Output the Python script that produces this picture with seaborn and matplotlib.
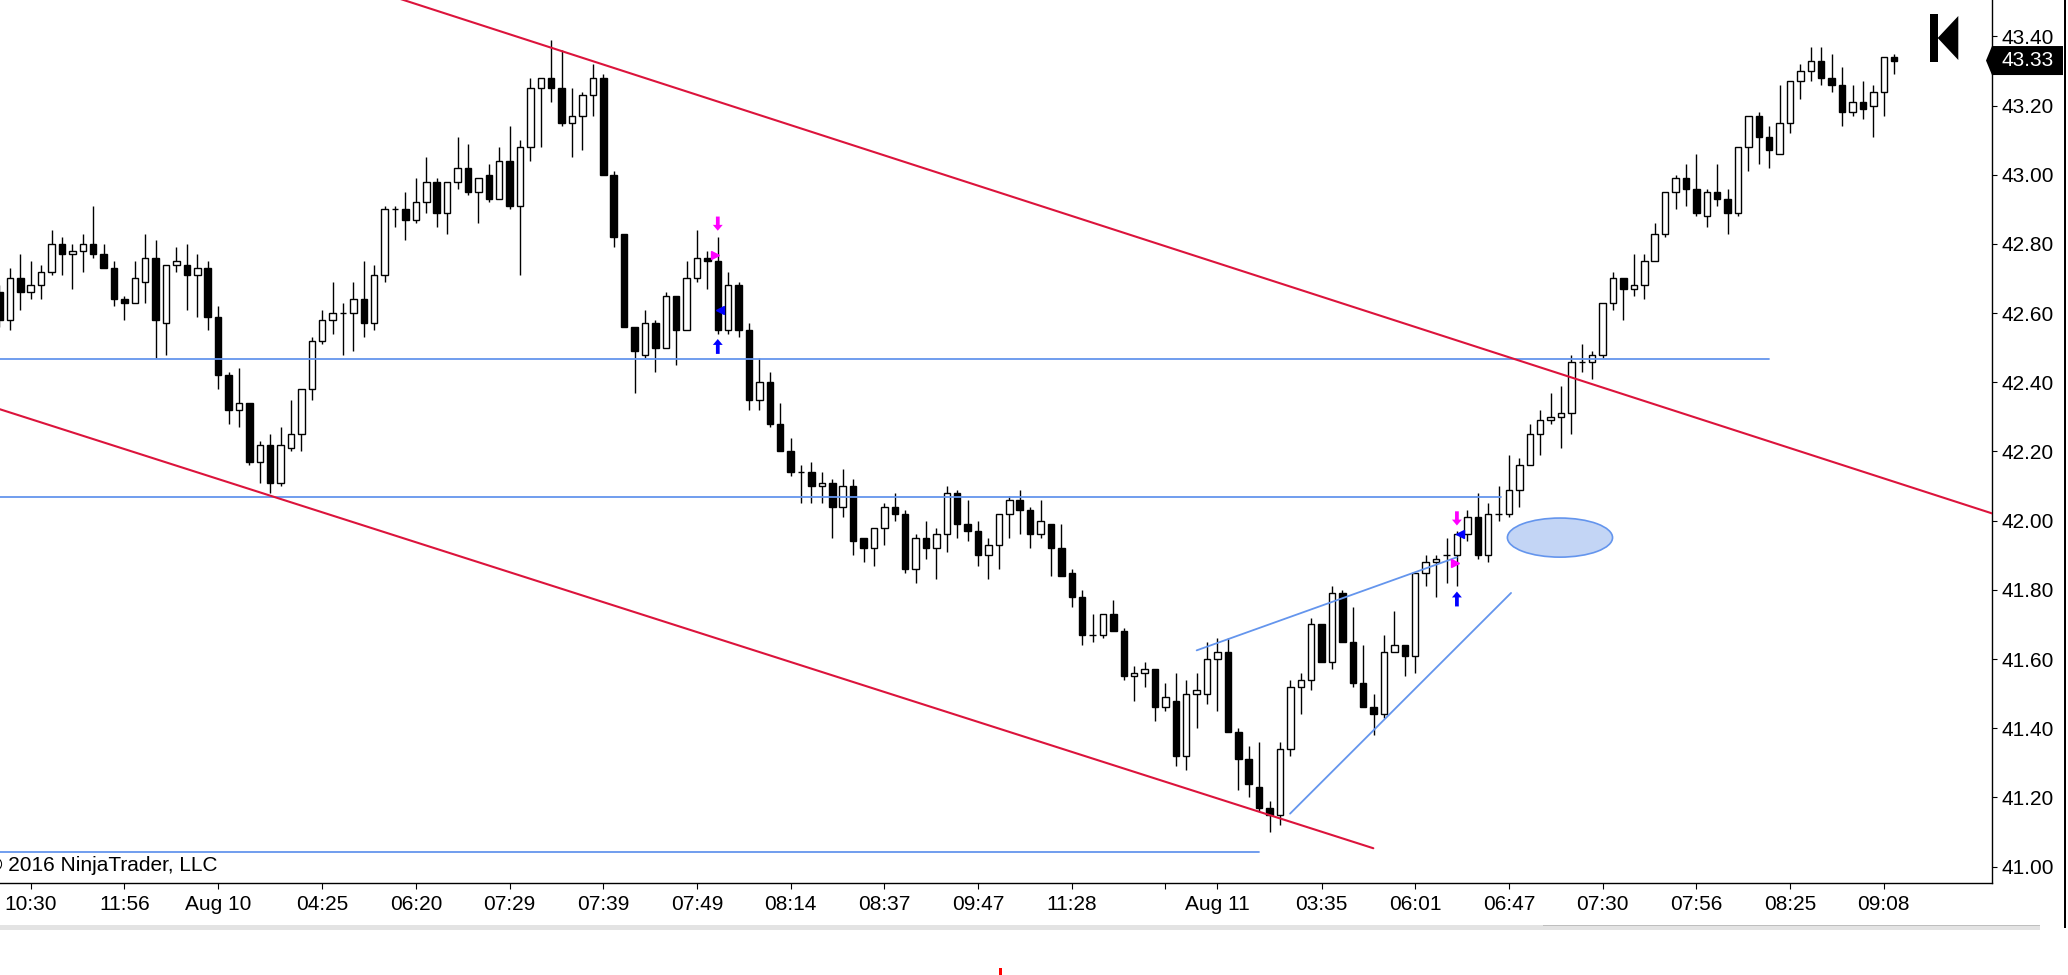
import numpy as np
import pandas as pd
import matplotlib
matplotlib.use("Agg")
import matplotlib.pyplot as plt
from matplotlib.patches import Rectangle, Polygon, Ellipse, FancyArrow
from matplotlib.transforms import blended_transform_factory
import seaborn as sns

# OHLC, one entry per bar (left to right)
opens = [42.66, 42.58, 42.70, 42.66, 42.68, 42.72, 42.80, 42.77, 42.78, 42.80,
         42.77, 42.73, 42.64, 42.63, 42.69, 42.76, 42.57, 42.74, 42.74, 42.71,
         42.73, 42.59, 42.42, 42.32, 42.34, 42.17, 42.22, 42.11, 42.21, 42.25,
         42.38, 42.52, 42.58, 42.60, 42.60, 42.64, 42.57, 42.71, 42.90, 42.90,
         42.87, 42.92, 42.98, 42.89, 42.98, 43.02, 42.95, 43.00, 42.93, 43.04,
         42.91, 43.08, 43.25, 43.28, 43.25, 43.15, 43.17, 43.23, 43.28, 43.00,
         42.83, 42.56, 42.48, 42.57, 42.50, 42.65, 42.55, 42.70, 42.76, 42.75,
         42.55, 42.68, 42.55, 42.35, 42.40, 42.28, 42.20, 42.14, 42.14, 42.10,
         42.11, 42.04, 42.10, 41.95, 41.92, 41.98, 42.04, 42.02, 41.86, 41.95,
         41.92, 41.96, 42.08, 41.99, 41.97, 41.90, 41.93, 42.02, 42.06, 42.03,
         41.96, 41.99, 41.92, 41.85, 41.78, 41.67, 41.67, 41.73, 41.68, 41.55,
         41.56, 41.57, 41.46, 41.48, 41.32, 41.50, 41.50, 41.60, 41.62, 41.39,
         41.31, 41.23, 41.17, 41.15, 41.34, 41.52, 41.54, 41.70, 41.59, 41.79,
         41.65, 41.53, 41.46, 41.44, 41.62, 41.64, 41.61, 41.85, 41.88, 41.90,
         41.90, 41.96, 42.01, 41.90, 42.02, 42.02, 42.09, 42.16, 42.25, 42.29,
         42.30, 42.31, 42.46, 42.46, 42.48, 42.63, 42.70, 42.67, 42.68, 42.75,
         42.83, 42.95, 42.99, 42.96, 42.88, 42.95, 42.93, 42.89, 43.08, 43.17,
         43.11, 43.06, 43.15, 43.27, 43.30, 43.33, 43.28, 43.26, 43.18, 43.21,
         43.20, 43.24, 43.34]
highs = [42.68, 42.73, 42.77, 42.75, 42.74, 42.84, 42.82, 42.80, 42.83, 42.91,
         42.80, 42.75, 42.65, 42.75, 42.83, 42.81, 42.74, 42.79, 42.80, 42.77,
         42.75, 42.62, 42.43, 42.44, 42.34, 42.23, 42.25, 42.27, 42.35, 42.38,
         42.53, 42.61, 42.69, 42.63, 42.69, 42.75, 42.74, 42.91, 42.91, 42.95,
         42.99, 43.05, 42.99, 42.98, 43.11, 43.09, 42.99, 43.03, 43.08, 43.14,
         43.10, 43.28, 43.28, 43.39, 43.36, 43.25, 43.24, 43.32, 43.29, 43.01,
         42.83, 42.56, 42.61, 42.58, 42.66, 42.65, 42.75, 42.84, 42.78, 42.82,
         42.72, 42.69, 42.57, 42.47, 42.43, 42.34, 42.24, 42.16, 42.17, 42.14,
         42.12, 42.15, 42.12, 41.95, 41.98, 42.05, 42.08, 42.03, 41.96, 42.00,
         41.98, 42.10, 42.09, 42.06, 42.00, 41.95, 42.02, 42.07, 42.09, 42.04,
         42.06, 41.99, 41.99, 41.86, 41.80, 41.73, 41.73, 41.77, 41.69, 41.58,
         41.59, 41.57, 41.53, 41.56, 41.54, 41.56, 41.65, 41.66, 41.66, 41.40,
         41.35, 41.36, 41.19, 41.36, 41.54, 41.56, 41.72, 41.70, 41.81, 41.80,
         41.75, 41.64, 41.50, 41.67, 41.74, 41.64, 41.85, 41.90, 41.90, 41.95,
         41.97, 42.03, 42.08, 42.05, 42.10, 42.19, 42.18, 42.28, 42.32, 42.37,
         42.39, 42.48, 42.51, 42.49, 42.63, 42.72, 42.70, 42.77, 42.77, 42.86,
         42.95, 43.00, 43.03, 43.06, 42.96, 43.03, 42.96, 43.08, 43.17, 43.18,
         43.14, 43.26, 43.27, 43.32, 43.37, 43.37, 43.35, 43.31, 43.26, 43.27,
         43.26, 43.34, 43.35]
lows = [42.56, 42.55, 42.61, 42.64, 42.64, 42.71, 42.71, 42.67, 42.72, 42.76,
        42.73, 42.62, 42.58, 42.63, 42.63, 42.47, 42.48, 42.72, 42.61, 42.59,
        42.55, 42.38, 42.28, 42.27, 42.16, 42.11, 42.08, 42.10, 42.20, 42.20,
        42.35, 42.51, 42.54, 42.48, 42.49, 42.53, 42.55, 42.69, 42.85, 42.81,
        42.86, 42.89, 42.85, 42.83, 42.96, 42.94, 42.86, 42.92, 42.93, 42.90,
        42.71, 43.04, 43.08, 43.21, 43.14, 43.05, 43.07, 43.17, 43.00, 42.79,
        42.56, 42.37, 42.47, 42.43, 42.50, 42.45, 42.55, 42.69, 42.67, 42.54,
        42.54, 42.53, 42.32, 42.32, 42.27, 42.20, 42.13, 42.05, 42.05, 42.05,
        41.95, 42.01, 41.90, 41.88, 41.87, 41.93, 42.00, 41.85, 41.82, 41.89,
        41.83, 41.91, 41.95, 41.94, 41.87, 41.83, 41.86, 41.95, 41.96, 41.92,
        41.95, 41.84, 41.84, 41.75, 41.64, 41.65, 41.66, 41.68, 41.54, 41.48,
        41.52, 41.42, 41.45, 41.29, 41.28, 41.40, 41.47, 41.45, 41.39, 41.22,
        41.20, 41.16, 41.10, 41.12, 41.32, 41.44, 41.51, 41.59, 41.57, 41.65,
        41.52, 41.46, 41.38, 41.43, 41.62, 41.55, 41.56, 41.81, 41.78, 41.82,
        41.81, 41.94, 41.89, 41.88, 42.00, 42.01, 42.04, 42.16, 42.19, 42.28,
        42.21, 42.25, 42.43, 42.41, 42.47, 42.61, 42.58, 42.65, 42.64, 42.75,
        42.82, 42.90, 42.91, 42.88, 42.85, 42.91, 42.83, 42.88, 43.01, 43.03,
        43.02, 43.06, 43.12, 43.22, 43.27, 43.26, 43.24, 43.14, 43.17, 43.16,
        43.11, 43.17, 43.29]
closes = [42.58, 42.70, 42.66, 42.68, 42.72, 42.80, 42.77, 42.78, 42.80, 42.77,
          42.73, 42.64, 42.63, 42.70, 42.76, 42.58, 42.74, 42.75, 42.71, 42.73,
          42.59, 42.42, 42.32, 42.34, 42.17, 42.22, 42.11, 42.22, 42.25, 42.38,
          42.52, 42.58, 42.60, 42.60, 42.64, 42.57, 42.71, 42.90, 42.90, 42.87,
          42.92, 42.98, 42.89, 42.98, 43.02, 42.95, 42.99, 42.93, 43.04, 42.91,
          43.08, 43.25, 43.28, 43.25, 43.15, 43.17, 43.23, 43.28, 43.00, 42.82,
          42.56, 42.49, 42.57, 42.50, 42.65, 42.55, 42.70, 42.76, 42.75, 42.55,
          42.68, 42.55, 42.35, 42.40, 42.28, 42.20, 42.14, 42.14, 42.10, 42.11,
          42.04, 42.10, 41.94, 41.92, 41.98, 42.04, 42.02, 41.86, 41.95, 41.92,
          41.96, 42.08, 41.99, 41.97, 41.90, 41.93, 42.02, 42.06, 42.03, 41.96,
          42.00, 41.92, 41.84, 41.78, 41.67, 41.67, 41.73, 41.68, 41.55, 41.56,
          41.57, 41.46, 41.49, 41.32, 41.50, 41.51, 41.60, 41.62, 41.39, 41.31,
          41.24, 41.17, 41.15, 41.34, 41.52, 41.54, 41.70, 41.59, 41.79, 41.65,
          41.53, 41.46, 41.44, 41.62, 41.64, 41.61, 41.85, 41.88, 41.89, 41.90,
          41.96, 42.01, 41.90, 42.02, 42.02, 42.09, 42.16, 42.25, 42.29, 42.30,
          42.31, 42.46, 42.46, 42.48, 42.63, 42.70, 42.67, 42.68, 42.75, 42.83,
          42.95, 42.99, 42.96, 42.89, 42.95, 42.93, 42.89, 43.08, 43.17, 43.11,
          43.07, 43.15, 43.27, 43.30, 43.33, 43.28, 43.26, 43.18, 43.21, 43.19,
          43.24, 43.34, 43.33]

tick_bars = [3, 12, 21, 31, 40, 49, 58, 67, 76, 85, 94, 103, 112, 117,
             127, 136, 145, 154, 163, 172, 181]
tick_labels = ["10:30", "11:56", "Aug 10", "04:25", "06:20", "07:29", "07:39",
               "07:49", "08:14", "08:37", "09:47", "11:28", "", "Aug 11",
               "03:35", "06:01", "06:47", "07:30", "07:56", "08:25", "09:08"]
price_ticks = [41.0, 41.2, 41.4, 41.6, 41.8, 42.0, 42.2, 42.4, 42.6, 42.8,
               43.0, 43.2, 43.4]

# drawing objects on the chart (bar index, price)
hline_start = [-1.0, -1.0, -1.0]
hline_end = [170.0, 144.2, 121.0]
hline_level = [42.467, 42.068, 41.042]
upper_channel_x = [38.2, 191.4]
upper_channel_y = [43.511, 42.021]
lower_channel_x = [-1.0, 131.97]
lower_channel_y = [42.332, 41.053]
wedge_top_x = [115.0, 139.98]
wedge_top_y = [41.625, 41.894]
wedge_bot_x = [123.97, 145.2]
wedge_bot_y = [41.153, 41.791]
ellipse_x, ellipse_y = 149.9, 41.951
ellipse_w, ellipse_h = 10.1, 0.113
down_arrow_x = [69, 140]
down_arrow_top = [42.879, 42.027]
up_arrow_x = [69, 140]
up_arrow_bottom = [42.482, 41.752]
entry_x = [68.76, 139.77]
entry_y = [42.768, 41.879]
exit_x = [69.26, 140.3]
exit_y = [42.609, 41.960]

RED = "#DC143C"
BLUE = "#6495ED"
W, H = 2068, 975

sns.set_style("white")
plt.rcParams["font.family"] = ["Liberation Sans", "DejaVu Sans"]
plt.rcParams["text.color"] = "black"

df = pd.DataFrame({"open": opens, "high": highs, "low": lows, "close": closes})
df["bar"] = np.arange(len(df))
up = df["close"] >= df["open"]

fig = plt.figure(figsize=(W / 100, H / 100), dpi=100)
ax = fig.add_axes([0, (H - 882.5) / H, 1992 / W, 882.5 / H])

# candles
ax.vlines(df["bar"], df["low"], df["high"], color="black", lw=1.0, zorder=2)
ax.bar(df["bar"][up], (df["close"] - df["open"])[up], bottom=df["open"][up],
       width=0.62, color="white", edgecolor="black", lw=1.0, zorder=3)
ax.bar(df["bar"][~up], (df["open"] - df["close"])[~up], bottom=df["close"][~up],
       width=0.62, color="black", edgecolor="black", lw=1.0, zorder=3)

# trend lines
for x0, x1, lvl in zip(hline_start, hline_end, hline_level):
    sns.lineplot(x=[x0, x1], y=[lvl, lvl], ax=ax, color=BLUE, lw=1.3, zorder=5)
sns.lineplot(x=upper_channel_x, y=upper_channel_y, ax=ax, color=RED, lw=1.5, zorder=5)
sns.lineplot(x=lower_channel_x, y=lower_channel_y, ax=ax, color=RED, lw=1.5, zorder=5)
sns.lineplot(x=wedge_top_x, y=wedge_top_y, ax=ax, color=BLUE, lw=1.3, zorder=5)
sns.lineplot(x=wedge_bot_x, y=wedge_bot_y, ax=ax, color=BLUE, lw=1.3, zorder=5)

ax.add_patch(Ellipse((ellipse_x, ellipse_y), ellipse_w, ellipse_h,
                     facecolor="#C3D5F5", edgecolor=BLUE, lw=1.2, zorder=5))

# signal arrows and trade markers
for x, top in zip(down_arrow_x, down_arrow_top):
    ax.add_patch(FancyArrow(x, top, 0, -0.041, width=0.36, head_width=0.95,
                            head_length=0.017, length_includes_head=True,
                            color="#FF00FF", lw=0, zorder=6))
for x, bot in zip(up_arrow_x, up_arrow_bottom):
    ax.add_patch(FancyArrow(x, bot, 0, 0.043, width=0.36, head_width=0.95,
                            head_length=0.017, length_includes_head=True,
                            color="#0000FF", lw=0, zorder=6))
ax.plot(entry_x, entry_y, ls="none", marker=">", ms=5.5, color="#FF00FF", zorder=6)
ax.plot(exit_x, exit_y, ls="none", marker="<", ms=5.5, color="#0000FF", zorder=6)

ax.set_xlim(0.05, 191.4)
ax.set_ylim(40.954, 43.505)
ax.set_xlabel("")
ax.set_ylabel("")

ax.set_xticks(tick_bars)
ax.set_xticklabels(tick_labels)
ax.set_yticks(price_ticks)
ax.set_yticklabels([f"{p:.2f}" for p in price_ticks])
ax.yaxis.tick_right()
ax.tick_params(axis="x", bottom=True, direction="out", length=4.3, width=0.8,
               pad=5, labelsize=15, colors="black")
ax.tick_params(axis="y", right=True, left=False, labelright=True, labelleft=False,
               direction="out", length=3.6, width=0.8, pad=3, labelsize=15,
               colors="black")
for side in ["top", "left"]:
    ax.spines[side].set_visible(False)
for side in ["bottom", "right"]:
    ax.spines[side].set_color("black")
    ax.spines[side].set_linewidth(1.0)

# last price marker on the price axis
last = closes[-1]
bt = blended_transform_factory(ax.transAxes, ax.transData)
half = 14.5 / (882.5 / (43.505 - 40.954))
ax.add_patch(Polygon([(1986 / 1992, last), (1.0, last + half), (2063 / 1992, last + half),
                      (2063 / 1992, last - half), (1.0, last - half)],
                     closed=True, facecolor="black", edgecolor="none",
                     transform=bt, clip_on=False, zorder=10))
ax.text(2001 / 1992, last, f"{last:.2f}", transform=bt, color="white",
        fontsize=15, va="center", ha="left", zorder=11, clip_on=False)


def fx(x):
    return x / W


def fy(y):
    return 1 - y / H


def fig_rect(x0, y0, x1, y1, color):
    fig.add_artist(Rectangle((fx(x0), fy(y1)), (x1 - x0) / W, (y1 - y0) / H,
                             transform=fig.transFigure, facecolor=color,
                             edgecolor="none"))


# jump-to-start icon
fig_rect(1930, 14, 1937.7, 61.7, "black")
fig.add_artist(Polygon([(fx(1958.3), fy(16)), (fx(1958.3), fy(60)), (fx(1937.7), fy(38))],
                       closed=True, transform=fig.transFigure, facecolor="black",
                       edgecolor="none"))

# scroll bar, window border, stray mark
fig_rect(0, 925, 2040, 930, "#E3E3E3")
fig_rect(1543, 924.5, 2040, 926, "#BEBEBE")
fig_rect(2063.5, 0, 2066, 928, "black")
fig_rect(999, 968, 1001.5, 975, "red")

fig.text(fx(-12.8), fy(871), "\u00a9 2016 NinjaTrader, LLC", fontsize=15,
         ha="left", va="baseline", color="black")

fig.savefig("out.png", dpi=100, facecolor="white")
